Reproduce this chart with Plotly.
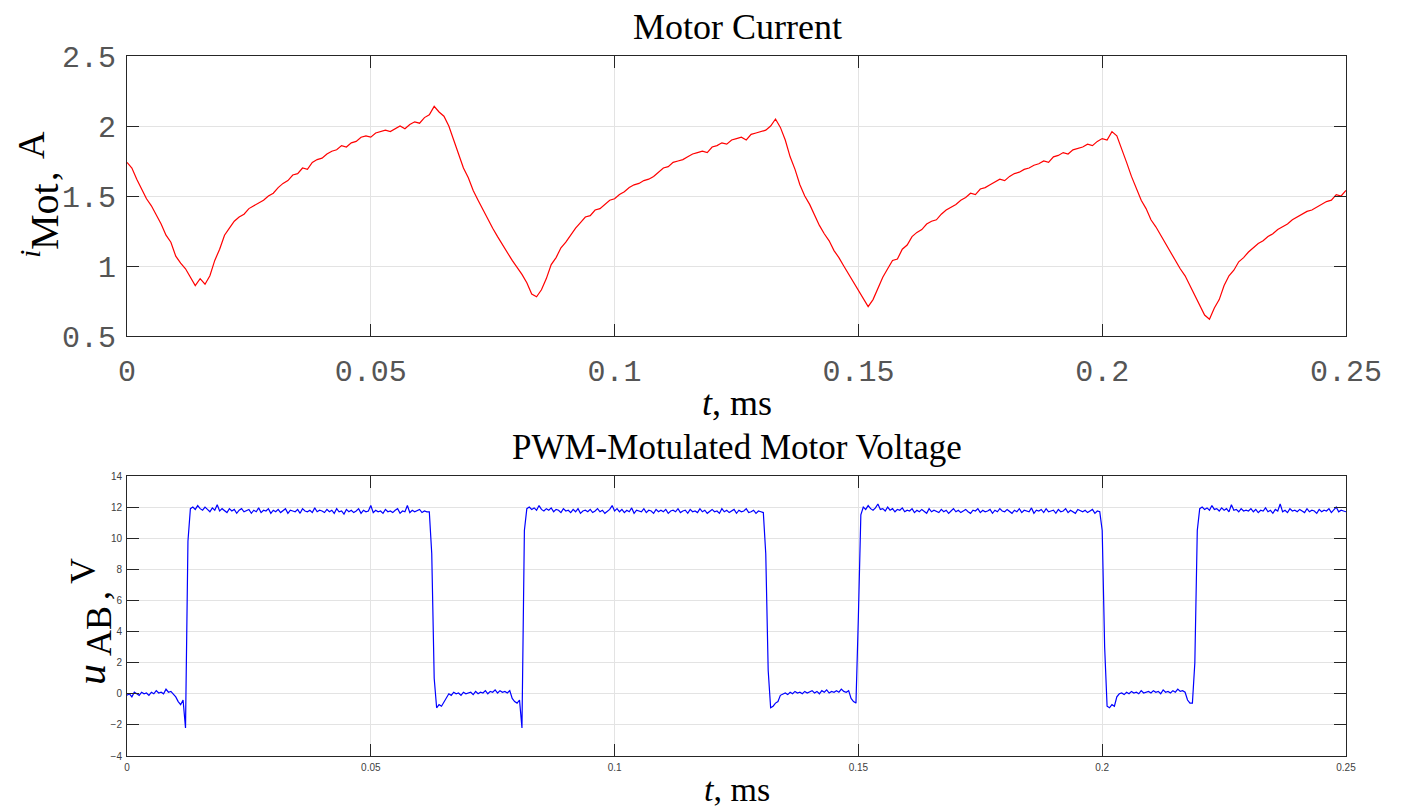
import numpy as np
import plotly.graph_objects as go

# ---------------- data ----------------
# Motor current, A, sampled every 0.001 ms from 0 to 0.25 ms
I_STEP = 0.001
i_mot = [
    1.74, 1.70, 1.62, 1.55, 1.48, 1.43, 1.37, 1.30, 1.22, 1.17,
    1.07, 1.02, 0.98, 0.92, 0.86, 0.91, 0.87, 0.93, 1.04, 1.12,
    1.22, 1.27, 1.32, 1.35, 1.37, 1.41, 1.43, 1.45, 1.47, 1.50,
    1.52, 1.56, 1.59, 1.61, 1.65, 1.66, 1.70, 1.69, 1.74, 1.76,
    1.77, 1.80, 1.82, 1.83, 1.86, 1.85, 1.88, 1.89, 1.92, 1.93,
    1.92, 1.95, 1.96, 1.97, 1.96, 1.98, 2.00, 1.98, 2.01, 2.03,
    2.02, 2.06, 2.08, 2.14, 2.10, 2.07, 2.00, 1.90, 1.80, 1.70,
    1.63, 1.54, 1.47, 1.40, 1.34, 1.27, 1.21, 1.15, 1.09, 1.04,
    0.99, 0.94, 0.88, 0.80, 0.78, 0.83, 0.91, 1.01, 1.06, 1.13,
    1.17, 1.22, 1.27, 1.31, 1.35, 1.36, 1.40, 1.41, 1.44, 1.47,
    1.48, 1.51, 1.53, 1.56, 1.58, 1.59, 1.61, 1.62, 1.64, 1.67,
    1.70, 1.71, 1.74, 1.75, 1.76, 1.78, 1.80, 1.81, 1.82, 1.81,
    1.85, 1.86, 1.88, 1.87, 1.90, 1.91, 1.92, 1.90, 1.94, 1.95,
    1.96, 1.97, 2.00, 2.05, 1.99, 1.90, 1.78, 1.69, 1.58, 1.50,
    1.44, 1.36, 1.29, 1.23, 1.18, 1.11, 1.06, 1.00, 0.94, 0.88,
    0.83, 0.77, 0.71, 0.76, 0.84, 0.92, 0.98, 1.04, 1.05, 1.12,
    1.15, 1.21, 1.24, 1.26, 1.30, 1.32, 1.33, 1.37, 1.40, 1.42,
    1.44, 1.47, 1.49, 1.52, 1.51, 1.55, 1.56, 1.58, 1.60, 1.62,
    1.61, 1.64, 1.66, 1.67, 1.69, 1.70, 1.72, 1.73, 1.75, 1.74,
    1.78, 1.79, 1.81, 1.80, 1.83, 1.84, 1.85, 1.87, 1.86, 1.89,
    1.91, 1.90, 1.96, 1.93, 1.84, 1.74, 1.64, 1.56, 1.47, 1.41,
    1.33, 1.28, 1.22, 1.15, 1.10, 1.03, 0.98, 0.93, 0.86, 0.80,
    0.72, 0.65, 0.62, 0.70, 0.76, 0.86, 0.93, 0.97, 1.03, 1.06,
    1.10, 1.13, 1.16, 1.18, 1.21, 1.23, 1.26, 1.28, 1.30, 1.33,
    1.35, 1.37, 1.39, 1.40, 1.42, 1.44, 1.46, 1.47, 1.51, 1.50,
    1.54,
]

# Motor voltage u_AB, V, sampled every 0.0005 ms from 0 to 0.25 ms
U_STEP = 0.0005
u_ab = [
    -0.1, 0.0, -0.2, 0.1, 0.0, -0.1, 0.1, 0.0, 0.05, -0.1, 0.1, 0.0, 0.2, 0.05, 0.1, 0.0, 0.3, 0.1, 0.15, 0.0,
    -0.2, -0.5, -0.7, -0.4, -2.2, 9.8, 11.9, 12.0, 11.85, 12.1, 11.9, 11.8, 12.0, 11.85, 11.7, 11.95, 11.8, 12.15, 11.75, 11.9,
    11.8, 11.65, 11.9, 11.75, 11.85, 11.6, 11.8, 11.9, 11.7, 11.75, 11.85, 11.6, 11.8, 11.7, 11.95, 11.65, 11.8, 11.75, 11.9, 11.6,
    11.8, 11.7, 11.85, 11.65, 11.75, 11.9, 11.6, 11.8, 11.75, 11.7, 11.85, 11.6, 11.9, 11.75, 11.7, 11.8, 11.65, 11.95, 11.7, 11.8,
    11.75, 11.65, 11.85, 11.7, 11.8, 11.6, 11.9, 11.7, 11.75, 11.55, 11.85, 11.7, 11.8, 11.65, 11.75, 11.9, 11.6, 11.8, 11.7, 11.75,
    12.1, 11.65, 11.8, 11.7, 11.75, 11.6, 11.85, 11.7, 11.75, 11.65, 11.8, 11.9, 11.6, 11.75, 11.7, 12.1, 11.65, 11.8, 11.7, 11.75,
    11.85, 11.65, 11.75, 11.7, 11.7, 9.0, 1.0, -0.9, -0.7, -0.8, -0.5, -0.3, 0.0, -0.1, 0.1, 0.0, 0.05, -0.1, 0.1, 0.0,
    0.05, 0.1, -0.05, 0.15, 0.0, 0.1, 0.05, 0.2, 0.0, 0.15, 0.1, 0.25, 0.05, 0.2, 0.1, 0.15, 0.05, 0.2, -0.3, -0.5,
    -0.6, -0.4, -2.2, 10.5, 11.9, 12.0, 11.85, 11.95, 11.8, 12.1, 11.85, 11.75, 11.9, 11.8, 11.95, 11.7, 11.85, 11.8, 11.65, 11.9,
    11.75, 11.8, 11.65, 11.85, 11.7, 11.9, 11.6, 11.75, 11.8, 11.7, 11.85, 11.65, 11.75, 11.9, 11.7, 11.8, 11.6, 11.75, 11.85, 12.1,
    11.75, 11.9, 11.7, 11.85, 11.65, 11.8, 11.7, 11.95, 11.6, 11.8, 11.75, 11.7, 11.9, 11.65, 11.8, 11.75, 11.6, 11.85, 11.7, 11.8,
    11.7, 11.85, 11.6, 11.75, 11.8, 11.7, 11.9, 11.65, 11.75, 11.8, 11.6, 11.85, 11.7, 11.75, 11.65, 11.9, 11.7, 11.8, 11.6, 11.75,
    11.85, 11.7, 11.75, 11.6, 11.9, 11.7, 11.8, 11.65, 11.75, 11.85, 11.6, 11.8, 11.7, 11.75, 11.9, 11.65, 11.7, 11.8, 11.6, 11.75,
    11.7, 11.65, 9.0, 1.5, -0.9, -0.8, -0.6, -0.5, -0.1, 0.0, 0.05, -0.05, 0.1, 0.0, 0.15, 0.05, 0.1, 0.0, 0.15, 0.05,
    0.1, 0.2, 0.05, 0.15, 0.0, 0.2, 0.1, 0.25, 0.05, 0.15, 0.1, 0.2, 0.1, 0.3, 0.15, 0.1, 0.2, -0.3, -0.5, -0.6,
    5.0, 11.5, 12.0, 11.85, 12.1, 11.9, 11.8, 11.95, 12.2, 11.85, 11.9, 11.75, 12.0, 11.8, 11.9, 11.7, 11.85, 11.8, 11.95, 11.7,
    11.8, 11.75, 11.9, 11.65, 11.8, 11.7, 11.85, 11.75, 11.6, 11.9, 11.7, 11.8, 11.75, 11.65, 11.85, 11.7, 11.8, 11.6, 11.75, 11.9,
    11.7, 11.8, 11.65, 11.75, 11.85, 11.7, 11.6, 11.8, 11.75, 11.9, 11.65, 11.8, 11.7, 11.75, 11.85, 11.6, 11.8, 11.7, 11.9, 11.75,
    11.7, 11.85, 11.75, 11.6, 11.8, 11.7, 11.9, 11.65, 11.8, 11.75, 11.7, 11.95, 11.6, 11.8, 11.75, 11.85, 11.65, 11.9, 11.7, 11.75,
    11.8, 11.6, 11.85, 11.7, 11.75, 11.9, 11.65, 11.8, 11.7, 11.6, 11.85, 11.75, 11.7, 11.8, 11.65, 11.75, 11.85, 11.6, 11.75, 11.7,
    10.5, 3.0, -0.8, -0.9, -0.7, -0.8, -0.2, 0.0, 0.05, -0.05, 0.1, 0.0, 0.15, 0.05, 0.1, 0.0, 0.2, 0.05, 0.1, 0.15,
    0.05, 0.2, 0.1, 0.15, 0.0, 0.25, 0.1, 0.15, 0.05, 0.2, 0.1, 0.3, 0.15, 0.2, 0.1, -0.4, -0.6, -0.6, 2.0, 10.5,
    11.9, 12.0, 11.85, 11.95, 11.8, 12.1, 11.85, 11.9, 11.75, 11.95, 11.8, 11.9, 11.7, 12.15, 11.8, 11.85, 11.7, 11.9, 11.75, 11.8,
    11.75, 11.9, 11.7, 11.85, 11.65, 11.8, 11.75, 11.95, 11.7, 11.8, 11.6, 11.85, 11.75, 12.2, 11.7, 11.8, 11.65, 11.9, 11.75, 11.8,
    11.7, 11.85, 11.75, 11.65, 11.9, 11.7, 11.8, 11.75, 11.6, 11.85, 11.7, 11.8, 11.75, 11.9, 11.65, 11.8, 12.0, 11.7, 11.8, 11.75,
    11.7,
]

x_ticks = [0, 0.05, 0.1, 0.15, 0.2, 0.25]
x_ticktext = ["0", "0.05", "0.1", "0.15", "0.2", "0.25"]
i_ticks = [0.5, 1, 1.5, 2, 2.5]
i_ticktext = ["0.5", "1", "1.5", "2", "2.5"]
u_ticks = [-4, -2, 0, 2, 4, 6, 8, 10, 12, 14]

title_top = "Motor Current"
title_bottom = "PWM-Motulated Motor Voltage"
x_label = "<i>t</i>, ms"
# y-axis labels, in pieces: symbol, subscript, comma, unit
y_top_parts = ["<i>i</i>", "Mot", ",", "A"]
y_bottom_parts = ["<i>u</i>", "AB", ",", "V"]

# ---------------- figure ----------------
t_i = np.arange(len(i_mot)) * I_STEP
t_u = np.arange(len(u_ab)) * U_STEP

OFF = 8                      # page body margin
W, H = 1406 - OFF, 809 - OFF
def px_x(p):
    return (p - OFF) / W
def px_y(p):
    return 1 - (p - OFF) / H

fig = go.Figure()
fig.add_trace(go.Scatter(x=t_i, y=i_mot, mode="lines",
                         line=dict(color="#ff0000", width=1.2),
                         xaxis="x", yaxis="y", showlegend=False))
fig.add_trace(go.Scatter(x=t_u, y=u_ab, mode="lines",
                         line=dict(color="#0000ff", width=1.2),
                         xaxis="x2", yaxis="y2", showlegend=False))

axis_common = dict(
    showline=True, linecolor="#262626", linewidth=1, mirror="ticks",
    ticks="inside", ticklen=12, tickcolor="#262626", tickwidth=1,
    showgrid=True, gridcolor="#e3e3e3", gridwidth=1, zeroline=False,
    automargin=False,
)
mono = dict(family="Liberation Mono", size=30, color="#555555")
small = dict(family="Liberation Sans", size=10, color="#404040")

dom_x = [px_x(127), px_x(1346)]
fig.update_layout(
    width=W, height=H,
    margin=dict(l=0, r=0, t=0, b=0, pad=0, autoexpand=False),
    paper_bgcolor="white", plot_bgcolor="white",
    xaxis=dict(domain=dom_x, anchor="y", range=[0, 0.25],
               tickvals=x_ticks, ticktext=x_ticktext, tickfont=mono,
               ticklabelstandoff=8, **axis_common),
    yaxis=dict(domain=[px_y(336), px_y(56)], anchor="x", range=[0.5, 2.5],
               tickvals=i_ticks, ticktext=i_ticktext, tickfont=mono,
               ticklabelstandoff=4, **axis_common),
    xaxis2=dict(domain=dom_x, anchor="y2", range=[0, 0.25],
                tickvals=x_ticks, ticktext=x_ticktext, tickfont=small,
                ticklabelstandoff=2, **axis_common),
    yaxis2=dict(domain=[px_y(756), px_y(476)], anchor="x2", range=[-4, 14],
                tickvals=u_ticks, tickfont=small,
                ticklabelstandoff=2, **axis_common),
)

serif = "Liberation Serif"

def text(t, x, y, size, angle=0):
    fig.add_annotation(text=t, x=px_x(x), y=px_y(y), xref="paper", yref="paper",
                       xanchor="center", yanchor="middle", showarrow=False,
                       textangle=angle,
                       font=dict(family=serif, size=size, color="black"))

text(title_top, 737, 27, 36)
text(x_label, 737, 403, 36)
text(title_bottom, 737, 447, 35)
text(x_label, 737, 789, 34)

# top y label pieces (rotated)
text(y_top_parts[0], 30, 254, 30, -90)
text(y_top_parts[1], 45, 217, 40, -90)
text(y_top_parts[2], 44, 176, 38, -90)
text(y_top_parts[3], 31, 145, 38, -90)
# bottom y label pieces (rotated)
text(y_bottom_parts[0], 91, 675, 42, -90)
text(y_bottom_parts[1], 99, 631, 36, -90)
text(y_bottom_parts[2], 97, 596, 36, -90)
text(y_bottom_parts[3], 83, 571, 36, -90)

fig.write_html("out.html")
